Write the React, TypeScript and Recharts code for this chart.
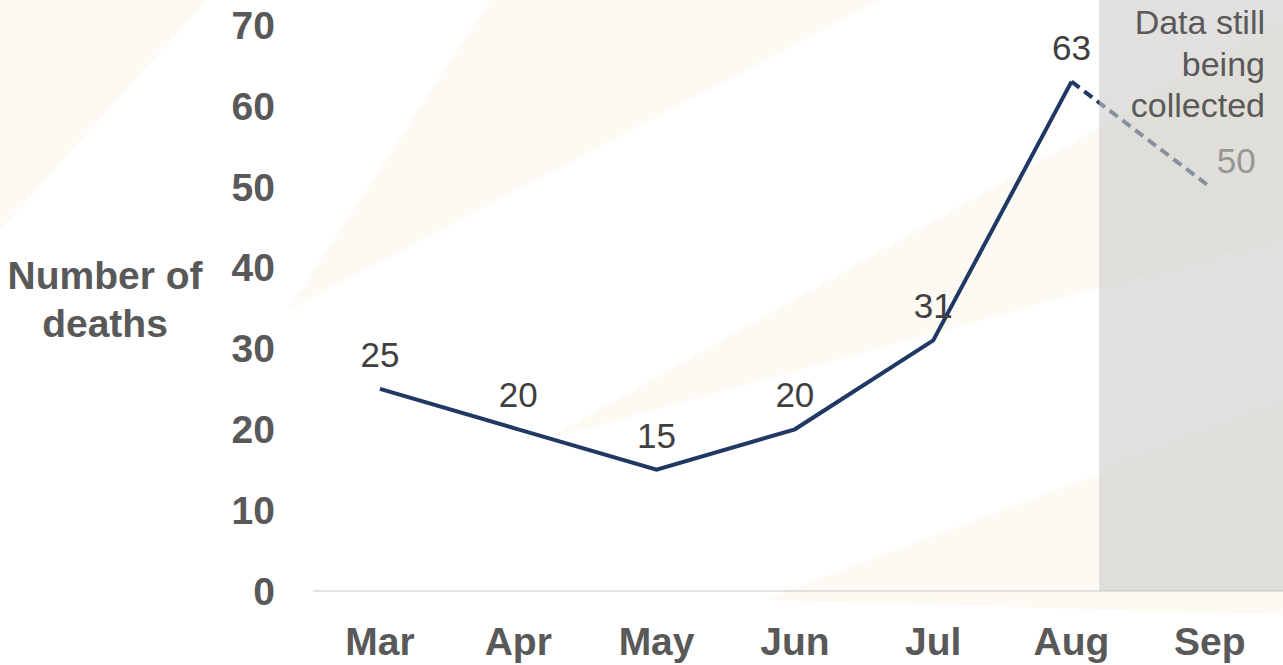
import {
  LineChart,
  Line,
  XAxis,
  YAxis,
  ReferenceArea,
  LabelList,
} from 'recharts';

const months = ['Mar', 'Apr', 'May', 'Jun', 'Jul', 'Aug', 'Sep'];
const recorded = [25, 20, 15, 20, 31, 63, null];
const provisional = [null, null, null, null, null, 63, 50];
const yTicks = [0, 10, 20, 30, 40, 50, 60, 70];
const noteLines = ['Data still', 'being', 'collected'];

const FONT = '"Liberation Sans", Arial, sans-serif';
const NAVY = '#1f3864';
const TEXT_GREY = '#595959';
const X_DOMAIN: [number, number] = [-0.484, 6.529];

const data = months.map((month, i) => ({
  idx: i,
  month,
  recorded: recorded[i],
  provisional: provisional[i],
}));

function YLabel(props: any) {
  const vb = props.viewBox ?? { x: 0, y: 0, height: 0 };
  const cy = vb.y + vb.height / 2;
  return (
    <text
      textAnchor="middle"
      fill={TEXT_GREY}
      fontFamily={FONT}
      fontWeight="bold"
      fontSize={39}
    >
      <tspan x={105} y={cy - 7}>Number of</tspan>
      <tspan x={105} y={cy + 41}>deaths</tspan>
    </text>
  );
}

function NoteLabel(props: any) {
  const vb = props.viewBox ?? { x: 0, y: 0, width: 0 };
  const right = vb.x + vb.width - 18;
  return (
    <text textAnchor="end" fill={TEXT_GREY} fontFamily={FONT} fontSize={34}>
      {noteLines.map((line, i) => (
        <tspan key={line} x={right} y={vb.y + 34 + i * 41.5}>
          {line}
        </tspan>
      ))}
    </text>
  );
}

function SepLabel(props: any) {
  const { x, y, value, index } = props;
  if (index !== months.length - 1 || value == null) return null;
  return (
    <text x={x + 7} y={y - 14} fill="#979797" fontFamily={FONT} fontSize={35}>
      {value}
    </text>
  );
}

function Rays() {
  // faint decorative sunburst behind the chart
  return (
    <svg
      width={1283}
      height={665}
      style={{ position: 'absolute', left: 0, top: 0 }}
    >
      <g fill="#fcfaf3">
        <polygon points="0,0 207,0 0,230" />
        <polygon points="288,310 490,0 880,0" />
        <polygon points="545,440 1283,24 1283,237" />
        <polygon points="762,600 1283,405 1283,615" />
      </g>
    </svg>
  );
}

export default function App() {
  return (
    <div
      style={{
        position: 'absolute',
        left: 0,
        top: 0,
        width: 1283,
        height: 665,
        background: '#ffffff',
      }}
    >
      <Rays />
      <div style={{ position: 'absolute', left: 0, top: 0 }}>
        <LineChart
          width={1283}
          height={665}
          data={data}
          margin={{ top: 0, right: 0, bottom: 0, left: 0 }}
        >
          <XAxis
            dataKey="idx"
            type="number"
            height={74}
            domain={X_DOMAIN}
            ticks={months.map((_, i) => i)}
            tickFormatter={(v: number) => months[v] ?? ''}
            axisLine={{ stroke: '#d9d9d9', strokeWidth: 1.5 }}
            tickLine={false}
            tickSize={0}
            tickMargin={36}
            tick={{
              fill: TEXT_GREY,
              fontFamily: FONT,
              fontWeight: 'bold',
              fontSize: 39,
            }}
            interval={0}
            allowDataOverflow
          />
          <YAxis
            width={313}
            domain={[0, 73.1]}
            ticks={yTicks}
            axisLine={false}
            tickLine={false}
            tickSize={0}
            tickMargin={38}
            tick={{
              fill: TEXT_GREY,
              fontFamily: FONT,
              fontWeight: 'bold',
              fontSize: 39,
            }}
            interval={0}
            allowDataOverflow
            label={{ content: <YLabel /> }}
          />
          <Line
            dataKey="recorded"
            stroke={NAVY}
            strokeWidth={4}
            dot={false}
            activeDot={false}
            connectNulls={false}
            isAnimationActive={false}
          >
            <LabelList
              dataKey="recorded"
              position="top"
              offset={22}
              fill="#404040"
              fontFamily={FONT}
              fontSize={35}
            />
          </Line>
          <Line
            dataKey="provisional"
            stroke={NAVY}
            strokeWidth={4}
            strokeDasharray="10 6"
            dot={false}
            activeDot={false}
            isAnimationActive={false}
          >
            <LabelList dataKey="provisional" content={<SepLabel />} />
          </Line>
          <ReferenceArea
            x1={5.2}
            x2={X_DOMAIN[1]}
            y1={0}
            y2={73.1}
            fill="#cdcbc8"
            fillOpacity={0.6}
            stroke="none"
            ifOverflow="visible"
            zIndex={550}
            label={{ content: <NoteLabel /> }}
          />
        </LineChart>
      </div>
    </div>
  );
}
